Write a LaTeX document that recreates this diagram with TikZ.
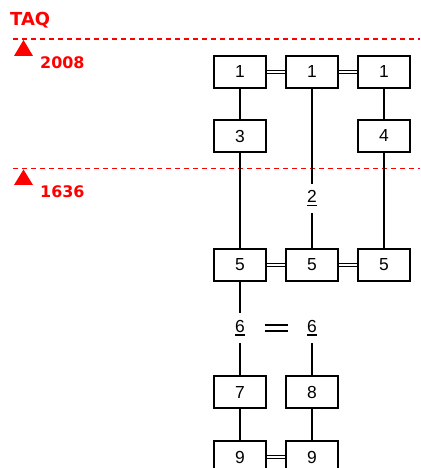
\documentclass[tikz,border=0pt]{standalone}
\usepackage{fontspec}
\setmainfont{Liberation Sans}
\newfontfamily\eralabelfont{DejaVu Sans}
\usetikzlibrary{arrows}

\newcommand{\underdigit}[1]{\setbox0\hbox{#1}\rlap{\rule[-3.5bp]{\wd0}{1.5bp}}#1}

\begin{document}
\begin{tikzpicture}[
				x=1bp, y=-1bp,
				box style/.style={
					draw, 
					line width=2bp,
					minimum width=52bp,   
					minimum height=32bp,   
					inner sep=0pt,
					font=\fontsize{17.5}{17.5}\selectfont
				},
				free style/.style={
					minimum width=50bp,
					minimum height=30bp,
					inner sep=0pt,
					font=\fontsize{17.5}{17.5}\selectfont
				},
				label style/.style={
					text=red,
					anchor=west,
					inner sep=0pt,
					font=\eralabelfont\bfseries\fontsize{16}{16}\selectfont
				},
				line style/.style={line width=2bp},
				link style/.style={double, double distance=2bp, line width=1bp},
				era style/.style={red, line width=1.5bp, dash pattern=on 5bp off 4bp},
				>=latex
				]
				
				\useasboundingbox (0,0) rectangle (420,468);
				
				% eras
				\draw[era style] (13,39) -- (420,39);
				\draw[era style] (13,168.5) -- (420,168.5);
				\fill[red] (14,56) -- (23.5,40) -- (33,56) -- cycle;
				\fill[red] (14,185) -- (23.5,169.5) -- (33,185) -- cycle;
				
				\node[label style, font=\eralabelfont\bfseries\fontsize{18}{18}\selectfont] (taq) at (10,20) {TAQ};
				\node[label style] (era1) at (40,62.5) {2008};
				\node[label style] (era2) at (40,191.5) {1636};
				
				\node[box style] (box1a) at (240,72) {1};
				\node[box style] (box1b) at (312,72) {1};
				\node[box style] (box1c) at (384,72) {1};
				
				\node[box style] (box3) at (240,136) {3};
				\node[box style] (box4) at (384,136) {4};
				
				\node[free style, minimum height=29bp] (two) at (312,198.5) {\underdigit{2}};
				
				\node[box style] (box5a) at (240,265) {5};
				\node[box style] (box5b) at (312,265) {5};
				\node[box style] (box5c) at (384,265) {5};
				
				\node[free style] (sixa) at (240,328) {\underdigit{6}};
				\node[free style, minimum width=48bp] (sixb) at (312,328) {\underdigit{6}};
				
				\node[box style] (box7) at (240,392) {7};
				\node[box style] (box8) at (312,392) {8};
				
				\node[box style] (box9a) at (240,457) {9};
				\node[box style] (box9b) at (312,457) {9};
				
				\draw[line style] (box1a) -- (box3);
				\draw[line style] (box3) -- (box5a);
				\draw[line style] (box1b) -- (two);
				\draw[line style] (two) -- (box5b);
				\draw[line style] (box1c) -- (box4);
				\draw[line style] (box4) -- (box5c);
				\draw[line style] (box5a) -- (sixa);
				\draw[line style] (sixa) -- (box7);
				\draw[line style] (sixb) -- (box8);
				\draw[line style] (box7) -- (box9a);
				\draw[line style] (box8) -- (box9b);
				
				\draw[link style] (box1a) -- (box1b);
				\draw[link style] (box1b) -- (box1c);
				\draw[link style] (box5a) -- (box5b);
				\draw[link style] (box5b) -- (box5c);
				\draw[link style] (box9a) -- (box9b);
				\draw[link style, double distance=4bp, line width=2bp] (sixa) -- (sixb);
				
			\end{tikzpicture}
\end{document}
